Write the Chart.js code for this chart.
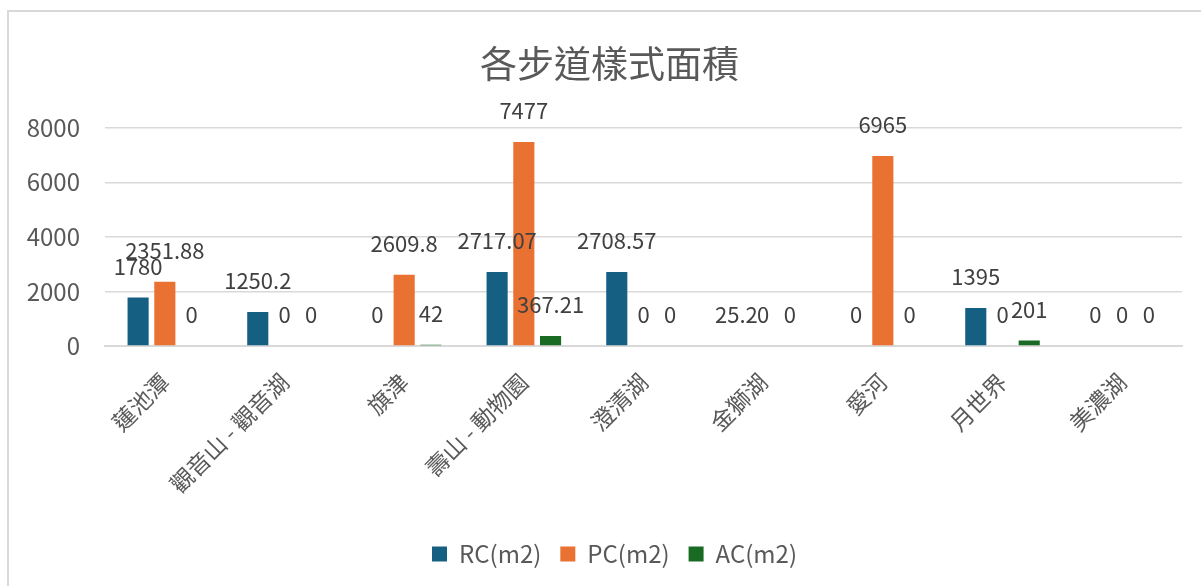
<!DOCTYPE html>
<html lang="zh-Hant">
<head>
<meta charset="utf-8">
<title>各步道樣式面積</title>
<script src="https://cdn.jsdelivr.net/npm/chart.js@4/dist/chart.umd.min.js"></script>
<style>
    html, body {
        margin: 0;
        padding: 0;
        background: #fff;
        overflow: hidden;
        width: 1201px;
        height: 586px;
    }
    #chartBox {
        position: absolute;
        left: 7px;
        top: 10px;
        width: 1194px;
        height: 600px;
        border-top: 2px solid #d9d9d9;
        border-left: 2px solid #d9d9d9;
    }
    #chartWrap {
        position: relative;
        width: 1192px;
        height: 574px;
    }
</style>
</head>
<body>
<div id="chartBox">
    <div id="chartWrap"><canvas id="areaChart"></canvas></div>
</div>
<script>
// 步道名稱
const trails = ['蓮池潭', '觀音山 - 觀音湖', '旗津', '壽山 - 動物園', '澄清湖', '金獅湖', '愛河', '月世界', '美濃湖'];

// 各樣式面積 (m2)
const rcValues = [1780, 1250.2, 0, 2717.07, 2708.57, 25.2, 0, 1395, 0];
const pcValues = [2351.88, 0, 2609.8, 7477, 0, 0, 6965, 0, 0];
const acValues = [0, 0, 42, 367.21, 0, 0, 0, 201, 0];

const seriesNames = ['RC(m2)', 'PC(m2)', 'AC(m2)'];
const yTicks = [0, 2000, 4000, 6000, 8000];

const FONT = '"Noto Sans CJK TC", "Noto Sans", sans-serif';
const GREY = '#595959';

// 柱子上方的數值標籤
const valueLabels = {
    id: 'valueLabels',
    afterDatasetsDraw(chart) {
        const ctx = chart.ctx;
        ctx.save();
        ctx.font = '22px ' + FONT;
        ctx.fillStyle = '#404040';
        ctx.textAlign = 'center';
        ctx.textBaseline = 'middle';
        chart.data.datasets.forEach((ds, i) => {
            const meta = chart.getDatasetMeta(i);
            meta.data.forEach((bar, j) => {
                ctx.fillText(String(ds.data[j]), bar.x, bar.y - 31);
            });
        });
        ctx.restore();
    }
};

// 標題和圖例往右移，對齊原圖 (原圖以整個圖表區置中)
const blockShift = {
    id: 'blockShift',
    afterLayout(chart) {
        if (chart.legend) {
            chart.legend.left += 19;
            chart.legend.right += 19;
        }
        if (chart.titleBlock) {
            chart.titleBlock.left += 14;
            chart.titleBlock.right += 14;
        }
    }
};

const ctx = document.getElementById('areaChart').getContext('2d');

new Chart(ctx, {
    type: 'bar',
    data: {
        labels: trails,
        datasets: [
            { label: seriesNames[0], data: rcValues, backgroundColor: '#156082' },
            { label: seriesNames[1], data: pcValues, backgroundColor: '#E97132' },
            { label: seriesNames[2], data: acValues, backgroundColor: '#196B24' }
        ]
    },
    options: {
        responsive: true,
        maintainAspectRatio: false,
        animation: false,
        categoryPercentage: 0.67,
        barPercentage: 0.79,
        layout: {
            padding: { left: 0, right: 19, top: 0, bottom: 10 }
        },
        plugins: {
            title: {
                display: true,
                text: '各步道樣式面積',
                color: GREY,
                font: { family: FONT, size: 37, weight: 'normal' },
                padding: { top: 30, bottom: 41.4 }
            },
            legend: {
                display: true,
                position: 'bottom',
                labels: {
                    color: GREY,
                    font: { family: FONT, size: 24 },
                    boxWidth: 15,
                    boxHeight: 15,
                    padding: 19
                }
            },
            tooltip: { enabled: false }
        },
        scales: {
            x: {
                grid: { display: false, drawTicks: false },
                border: { display: true, color: '#d9d9d9', width: 2 },
                ticks: {
                    color: GREY,
                    font: { family: FONT, size: 23 },
                    minRotation: 45,
                    maxRotation: 45,
                    autoSkip: false,
                    padding: 22
                },
                afterFit(axis) {
                    axis.height = 177;
                }
            },
            y: {
                min: 0,
                max: 8000,
                grid: { color: '#d9d9d9', lineWidth: 1.5, drawTicks: false },
                border: { display: false },
                ticks: {
                    color: GREY,
                    font: { family: FONT, size: 24 },
                    padding: 25,
                    stepSize: 2000,
                    callback: function(value) {
                        return yTicks.includes(value) ? value : null;
                    }
                },
                afterFit(axis) {
                    axis.width = 96;
                }
            }
        }
    },
    plugins: [valueLabels, blockShift]
});
</script>
</body>
</html>
